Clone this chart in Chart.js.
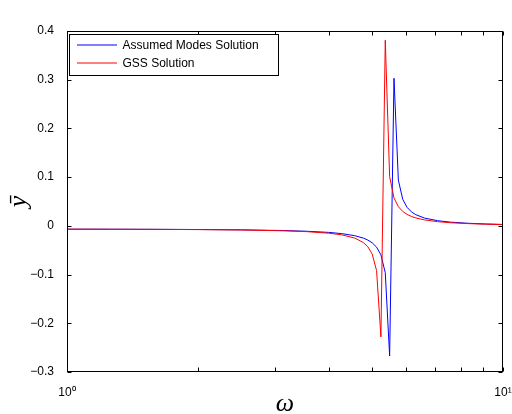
<!DOCTYPE html>
<html><head><meta charset="utf-8">
<script src="https://cdn.jsdelivr.net/npm/chart.js@4"></script>
<style>html,body{margin:0;padding:0;background:#fff}</style>
</head><body>
<canvas id="c" width="512" height="414"></canvas>
<script>
// ---- data ----
const omega = [1, 1.259, 1.585, 1.995, 2.512, 3.162, 3.548, 3.981, 4.266, 4.571, 4.786, 4.898, 5.012, 5.129, 5.248, 5.370, 5.495, 5.623, 5.754, 5.888, 6.026, 6.166, 6.310, 6.607, 7.079, 7.586, 8.318, 9.120, 10];
const assumedModes = [-0.0068, -0.0069, -0.0071, -0.0075, -0.0082, -0.0097, -0.0111, -0.0134, -0.0159, -0.0202, -0.0252, -0.0292, -0.0348, -0.0437, -0.0595, -0.0962, -0.267, 0.303, 0.094, 0.0546, 0.0379, 0.0287, 0.0229, 0.0160, 0.0106, 0.0076, 0.0053, 0.0039, 0.0029];
const gssSolution = [-0.0068, -0.0070, -0.0072, -0.0077, -0.0085, -0.0102, -0.0119, -0.0150, -0.0184, -0.0251, -0.0344, -0.0429, -0.0579, -0.0917, -0.228, 0.381, 0.101, 0.0572, 0.0393, 0.0296, 0.0235, 0.0193, 0.0163, 0.0122, 0.0086, 0.0064, 0.0046, 0.0034, 0.0026];
const seriesLabels = ['Assumed Modes Solution', 'GSS Solution'];
const seriesColors = ['#0000ff', '#ff0000'];
const xTickValues = [1, 2, 3, 4, 5, 6, 7, 8, 9, 10];
const xTickLabels = {1: '10\u2070', 10: '10\u00b9'};
const yMin = -0.3, yMax = 0.4, yStep = 0.1;
const xTitle = '\u03c9';
const yTitle = '\u0233';

const toPoints = vals => vals.map((v, i) => ({x: omega[i], y: v}));

const framePlugin = {
  id: 'frame',
  afterDatasetsDraw(chart) {
    const {ctx, chartArea: a, scales: {x, y}} = chart;
    ctx.save();
    ctx.strokeStyle = '#000';
    ctx.lineWidth = 1;
    const L = Math.round(a.left) + 0.5, R = Math.round(a.right) - 0.5;
    const T = Math.round(a.top) + 0.5, B = Math.round(a.bottom) - 0.5;
    ctx.strokeRect(L, T, R - L, B - T);
    const tl = 4;
    ctx.beginPath();
    x.ticks.forEach(t => {
      const px = Math.round(x.getPixelForValue(t.value)) + 0.5;
      ctx.moveTo(px, B); ctx.lineTo(px, B - tl);
      ctx.moveTo(px, T); ctx.lineTo(px, T + tl);
    });
    y.ticks.forEach(t => {
      const py = Math.round(y.getPixelForValue(t.value)) + 0.5;
      ctx.moveTo(L, py); ctx.lineTo(L + tl, py);
      ctx.moveTo(R, py); ctx.lineTo(R - tl, py);
    });
    ctx.stroke();
    ctx.restore();
  }
};

const legendPlugin = {
  id: 'boxLegend',
  afterDraw(chart) {
    const {ctx, chartArea: a} = chart;
    const x0 = Math.round(a.left) + 2.5, y0 = Math.round(a.top) + 3.5, w = 209, h = 41;
    ctx.save();
    ctx.fillStyle = '#fff';
    ctx.fillRect(x0, y0, w, h);
    ctx.strokeStyle = '#000';
    ctx.lineWidth = 1;
    ctx.strokeRect(x0, y0, w, h);
    ctx.font = '12px "Liberation Sans", Arial, sans-serif';
    ctx.textBaseline = 'middle';
    chart.data.datasets.forEach((ds, i) => {
      const yy = y0 + 10.5 + i * 18;
      ctx.strokeStyle = ds.borderColor;
      ctx.beginPath();
      ctx.moveTo(x0 + 7.5, yy); ctx.lineTo(x0 + 47.5, yy);
      ctx.stroke();
      ctx.fillStyle = '#000';
      ctx.fillText(ds.label, x0 + 53, yy + 1);
    });
    ctx.restore();
  }
};

Chart.defaults.font.family = '"Liberation Sans", Arial, sans-serif';
Chart.defaults.color = '#000';

new Chart(document.getElementById('c'), {
  type: 'scatter',
  data: {
    datasets: [
      {label: seriesLabels[0], data: toPoints(assumedModes), borderColor: seriesColors[0], backgroundColor: seriesColors[0], showLine: true, pointRadius: 0, borderWidth: 1, tension: 0, order: 2},
      {label: seriesLabels[1], data: toPoints(gssSolution), borderColor: seriesColors[1], backgroundColor: seriesColors[1], showLine: true, pointRadius: 0, borderWidth: 1, tension: 0, order: 1}
    ]
  },
  options: {
    responsive: false,
    animation: false,
    devicePixelRatio: 1,
    layout: {padding: {top: 31, right: 9, left: 0, bottom: 0}},
    plugins: {legend: {display: false}, tooltip: {enabled: false}},
    scales: {
      x: {
        type: 'logarithmic', min: 1, max: 10, position: 'bottom',
        grid: {display: false}, border: {display: false},
        afterBuildTicks: s => { s.ticks = xTickValues.map(v => ({value: v})); },
        ticks: {autoSkip: false, maxRotation: 0, padding: 5, font: {size: 12}, color: '#000',
          callback: v => xTickLabels[v] !== undefined ? xTickLabels[v] : ''},
        title: {display: true, text: xTitle, color: '#000', padding: {top: 0, bottom: -6},
          font: {family: '"Liberation Serif", "DejaVu Serif", serif', style: 'italic', size: 26}},
        afterFit: s => { s.height = 42; s.paddingLeft = 0; s.paddingRight = 0; }
      },
      y: {
        min: yMin, max: yMax,
        grid: {display: false}, border: {display: false},
        ticks: {stepSize: yStep, padding: 5, font: {size: 12}, color: '#000',
          callback: v => { const r = Math.round(v * 10) / 10; if (r === 0) return '0'; return (r < 0 ? '\u2212' : '') + Math.abs(r).toFixed(1); }},
        title: {display: true, text: yTitle, color: '#000', padding: {top: 4, bottom: 0},
          font: {family: '"Liberation Serif", "DejaVu Serif", serif', style: 'italic', size: 26}},
        afterFit: s => { s.width = 67; s.paddingTop = 0; s.paddingBottom = 0; }
      }
    }
  },
  plugins: [framePlugin, legendPlugin]
});
</script>
</body></html>
